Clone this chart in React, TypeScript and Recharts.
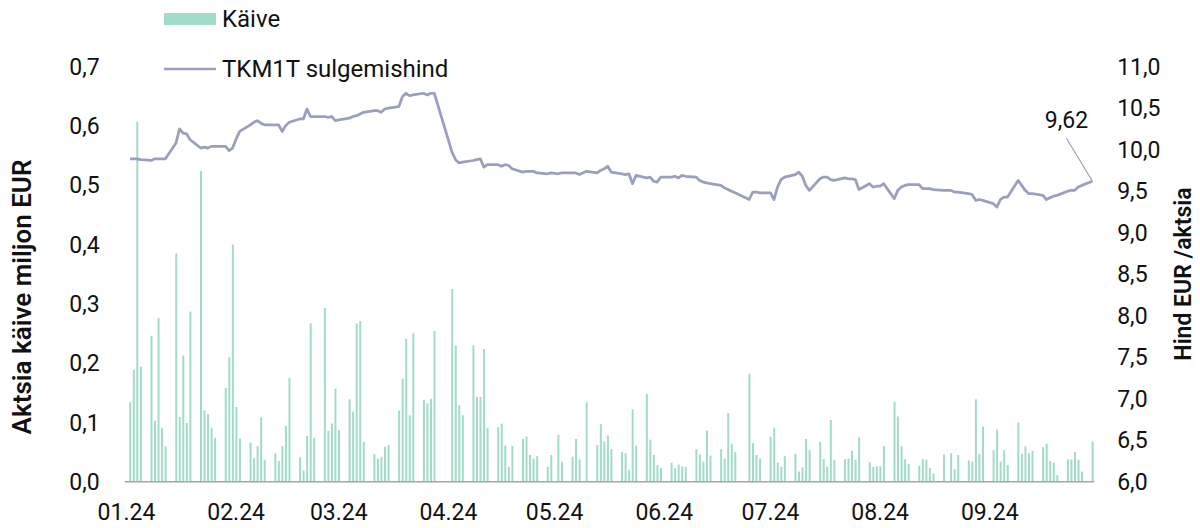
import React from 'react';
import { ComposedChart, Bar, Line, XAxis, YAxis } from 'recharts';

// Trading days of 2024 (MM-DD)
const tradeDates: string[] = [
  '01-02','01-03','01-04','01-05','01-08','01-09','01-10','01-11','01-12','01-15','01-16','01-17','01-18','01-19','01-22','01-23','01-24','01-25','01-26','01-29','01-30','01-31',
  '02-01','02-02','02-05','02-06','02-07','02-08','02-09','02-12','02-13','02-14','02-15','02-16','02-19','02-20','02-21','02-22','02-23','02-26','02-27','02-28','02-29',
  '03-01','03-04','03-05','03-06','03-07','03-08','03-11','03-12','03-13','03-14','03-15','03-18','03-19','03-20','03-21','03-22','03-25','03-26','03-27','03-28',
  '04-02','04-03','04-04','04-05','04-08','04-09','04-10','04-11','04-12','04-15','04-16','04-17','04-18','04-19','04-22','04-23','04-24','04-25','04-26','04-29','04-30',
  '05-02','05-03','05-06','05-07','05-08','05-10','05-13','05-14','05-15','05-16','05-17','05-20','05-21','05-22','05-23','05-24','05-27','05-28','05-29','05-30','05-31',
  '06-03','06-04','06-05','06-06','06-07','06-10','06-11','06-12','06-13','06-14','06-17','06-18','06-19','06-20','06-21','06-25','06-26','06-27','06-28',
  '07-01','07-02','07-03','07-04','07-05','07-08','07-09','07-10','07-11','07-12','07-15','07-16','07-17','07-18','07-19','07-22','07-23','07-24','07-25','07-26','07-29','07-30','07-31',
  '08-01','08-02','08-05','08-06','08-07','08-08','08-09','08-12','08-13','08-14','08-15','08-16','08-19','08-21','08-22','08-23','08-26','08-27','08-28','08-29','08-30',
  '09-02','09-03','09-04','09-05','09-06','09-09','09-10','09-11','09-12','09-13','09-16','09-17','09-18','09-19','09-20','09-23','09-24','09-25','09-26','09-27','09-30',
];

// Käive (million EUR)
const turnover: number[] = [
  0.134,0.189,0.607,0.194,0.246,0.103,0.276,0.090,0.060,0.385,0.109,0.213,0.099,0.287,0.524,0.120,0.114,0.091,0.074,0.158,0.210,0.400,
  0.126,0.073,0.066,0.040,0.060,0.109,0.037,0.048,0.035,0.060,0.094,0.175,0.041,0.019,0.077,0.267,0.074,0.293,0.086,0.098,0.157,
  0.087,0.139,0.118,0.267,0.271,0.067,0.047,0.039,0.042,0.059,0.062,0.120,0.174,0.241,0.112,0.250,0.138,0.132,0.140,0.254,
  0.325,0.230,0.129,0.112,0.230,0.143,0.143,0.224,0.091,0.092,0.098,0.061,0.025,0.060,0.072,0.076,0.045,0.039,0.043,0.025,0.045,
  0.079,0.034,0.042,0.072,0.038,0.134,0.062,0.097,0.068,0.078,0.055,0.050,0.048,0.020,0.122,0.061,0.148,0.071,0.045,0.028,0.023,
  0.032,0.023,0.029,0.026,0.025,0.055,0.046,0.034,0.086,0.044,0.055,0.039,0.116,0.064,0.050,0.182,0.065,0.045,0.039,
  0.076,0.091,0.032,0.025,0.043,0.047,0.017,0.024,0.072,0.053,0.067,0.038,0.025,0.104,0.037,0.038,0.039,0.052,0.037,0.075,0.033,0.025,0.026,
  0.026,0.060,0.135,0.110,0.060,0.038,0.030,0.027,0.038,0.037,0.023,0.014,0.046,0.048,0.021,0.045,0.036,0.034,0.139,0.047,0.093,
  0.053,0.088,0.034,0.053,0.028,0.100,0.047,0.060,0.048,0.052,0.058,0.064,0.035,0.032,0.011,0.038,0.038,0.050,0.037,0.017,0.068,
];

// TKM1T sulgemishind (EUR)
const closePrice: number[] = [
  9.89,9.89,9.89,9.88,9.87,9.89,9.89,9.89,9.89,10.08,10.25,10.20,10.19,10.12,10.02,10.03,10.02,10.04,10.04,10.04,9.99,10.02,
  10.13,10.22,10.30,10.33,10.35,10.32,10.30,10.30,10.30,10.22,10.29,10.33,10.37,10.37,10.49,10.40,10.40,10.40,10.39,10.40,10.35,
  10.36,10.38,10.40,10.41,10.43,10.45,10.47,10.47,10.45,10.49,10.50,10.52,10.64,10.68,10.65,10.66,10.68,10.66,10.68,10.68,
  9.97,9.88,9.84,9.85,9.87,9.88,9.89,9.79,9.82,9.82,9.80,9.82,9.81,9.77,9.73,9.74,9.74,9.74,9.72,9.71,9.72,
  9.71,9.72,9.72,9.72,9.70,9.74,9.72,9.75,9.77,9.80,9.73,9.71,9.70,9.71,9.59,9.69,9.66,9.67,9.62,9.61,9.67,
  9.67,9.68,9.66,9.69,9.68,9.67,9.63,9.61,9.60,9.59,9.57,9.54,9.52,9.50,9.48,9.40,9.49,9.49,9.48,
  9.48,9.40,9.55,9.64,9.67,9.70,9.73,9.68,9.57,9.51,9.65,9.67,9.67,9.64,9.63,9.66,9.65,9.65,9.64,9.52,9.59,9.55,9.56,
  9.56,9.59,9.41,9.51,9.55,9.57,9.58,9.58,9.53,9.53,9.53,9.52,9.51,9.51,9.49,9.49,9.47,9.46,9.39,9.40,9.39,
  9.35,9.31,9.40,9.43,9.43,9.63,9.57,9.51,9.47,9.47,9.45,9.40,9.42,9.44,9.45,9.50,9.51,9.51,9.55,9.57,9.62,
];

const monthTicks: string[] = ['01.24','02.24','03.24','04.24','05.24','06.24','07.24','08.24','09.24'];
const leftTicks: number[] = [0, 0.1, 0.2, 0.3, 0.4, 0.5, 0.6, 0.7];
const rightTicks: number[] = [6, 6.5, 7, 7.5, 8, 8.5, 9, 9.5, 10, 10.5, 11];

const BAR_COLOR = '#a1dcc9';
const LINE_COLOR = '#9aa0bc';
const TEXT_COLOR = '#111111';
const FONT = 'Roboto, Arial, sans-serif';
const FS = 23;
const LEGEND_FS = 24;

const dayIndex = (mmdd: string): number => {
  const [m, d] = mmdd.split('-').map(Number);
  return (Date.UTC(2024, m - 1, d) - Date.UTC(2024, 0, 1)) / 86400000;
};

const data = tradeDates.map((s, i) => ({ d: dayIndex(s), turnover: turnover[i], price: closePrice[i] }));
const monthTickDays = monthTicks.map((t) => dayIndex(`${t.split('.')[0]}-01`));
const tickLabelByDay: Record<number, string> = {};
monthTickDays.forEach((d, i) => { tickLabelByDay[d] = monthTicks[i]; });

const comma = (v: number, digits: number) => v.toFixed(digits).replace('.', ',');
const lastIdx = closePrice.length - 1;

const PriceDot = (props: any) => {
  const { cx, cy, index } = props;
  if (index !== lastIdx || cx == null || cy == null) return <g key={`pd-${index}`} />;
  return (
    <g key="pd-last">
      <line x1={cx - 26} y1={cy - 43} x2={cx} y2={cy} stroke={LINE_COLOR} strokeWidth={1.2} />
      <text x={cx - 26} y={cy - 61} textAnchor="middle" dominantBaseline="central" fill={TEXT_COLOR} fontSize={FS} fontFamily={FONT}>
        {comma(closePrice[lastIdx], 2)}
      </text>
    </g>
  );
};

export default function App() {
  return (
    <div style={{ position: 'absolute', left: 0, top: 0, width: 1200, height: 528, background: '#fff', fontFamily: FONT }}>
      <ComposedChart
        width={1200}
        height={528}
        data={data}
        margin={{ top: 66.7, right: 0, bottom: 16.3, left: 0 }}
      >
        <XAxis
          dataKey="d"
          type="number"
          domain={[-0.5, 273.5]}
          allowDataOverflow
          ticks={monthTickDays}
          interval={0}
          tickFormatter={(v: number) => tickLabelByDay[v] ?? ''}
          tick={{ fill: TEXT_COLOR, fontSize: FS, fontFamily: FONT }}
          tickLine={false}
          tickSize={0}
          tickMargin={22}
          axisLine={{ stroke: '#a6a6a6', strokeWidth: 1.5 }}
          height={30}
        />
        <YAxis
          yAxisId="left"
          orientation="left"
          domain={[0, 0.7]}
          ticks={leftTicks}
          interval={0}
          width={124.7}
          tickFormatter={(v: number) => comma(v, 1)}
          tick={{ fill: TEXT_COLOR, fontSize: FS, fontFamily: FONT }}
          axisLine={false}
          tickLine={false}
          tickSize={0}
          tickMargin={25}
        />
        <YAxis
          yAxisId="right"
          orientation="right"
          domain={[6, 11]}
          ticks={rightTicks}
          interval={0}
          width={105.8}
          tickFormatter={(v: number) => comma(v, 1)}
          tick={{ fill: TEXT_COLOR, fontSize: FS, fontFamily: FONT, textAnchor: 'start' }}
          axisLine={false}
          tickLine={false}
          tickSize={0}
          tickMargin={23}
        />
        <Bar yAxisId="left" dataKey="turnover" fill={BAR_COLOR} barSize={2} isAnimationActive={false} />
        <Line
          yAxisId="right"
          type="linear"
          dataKey="price"
          stroke={LINE_COLOR}
          strokeWidth={2.75}
          strokeLinejoin="round"
          dot={PriceDot}
          activeDot={false}
          isAnimationActive={false}
        />
      </ComposedChart>
      <svg width={1200} height={528} style={{ position: 'absolute', left: 0, top: 0, pointerEvents: 'none' }}>
        <rect x={164} y={13} width={52} height={12} fill={BAR_COLOR} />
        <text x={222} y={19} dominantBaseline="central" fill={TEXT_COLOR} fontSize={LEGEND_FS} fontFamily={FONT}>Käive</text>
        <line x1={164} y1={69} x2={216} y2={69} stroke={LINE_COLOR} strokeWidth={2.5} />
        <text x={222} y={69} dominantBaseline="central" fill={TEXT_COLOR} fontSize={LEGEND_FS} fontFamily={FONT}>TKM1T sulgemishind</text>
        <text x={22} y={297} transform="rotate(-90 22 297)" textAnchor="middle" dominantBaseline="central" fill={TEXT_COLOR} fontSize={26} fontWeight={600} fontFamily={FONT}>
          Aktsia käive miljon EUR
        </text>
        <text x={1183} y={274} transform="rotate(-90 1183 274)" textAnchor="middle" dominantBaseline="central" fill={TEXT_COLOR} fontSize={FS} fontWeight={600} fontFamily={FONT}>
          Hind EUR /aktsia
        </text>
      </svg>
    </div>
  );
}
